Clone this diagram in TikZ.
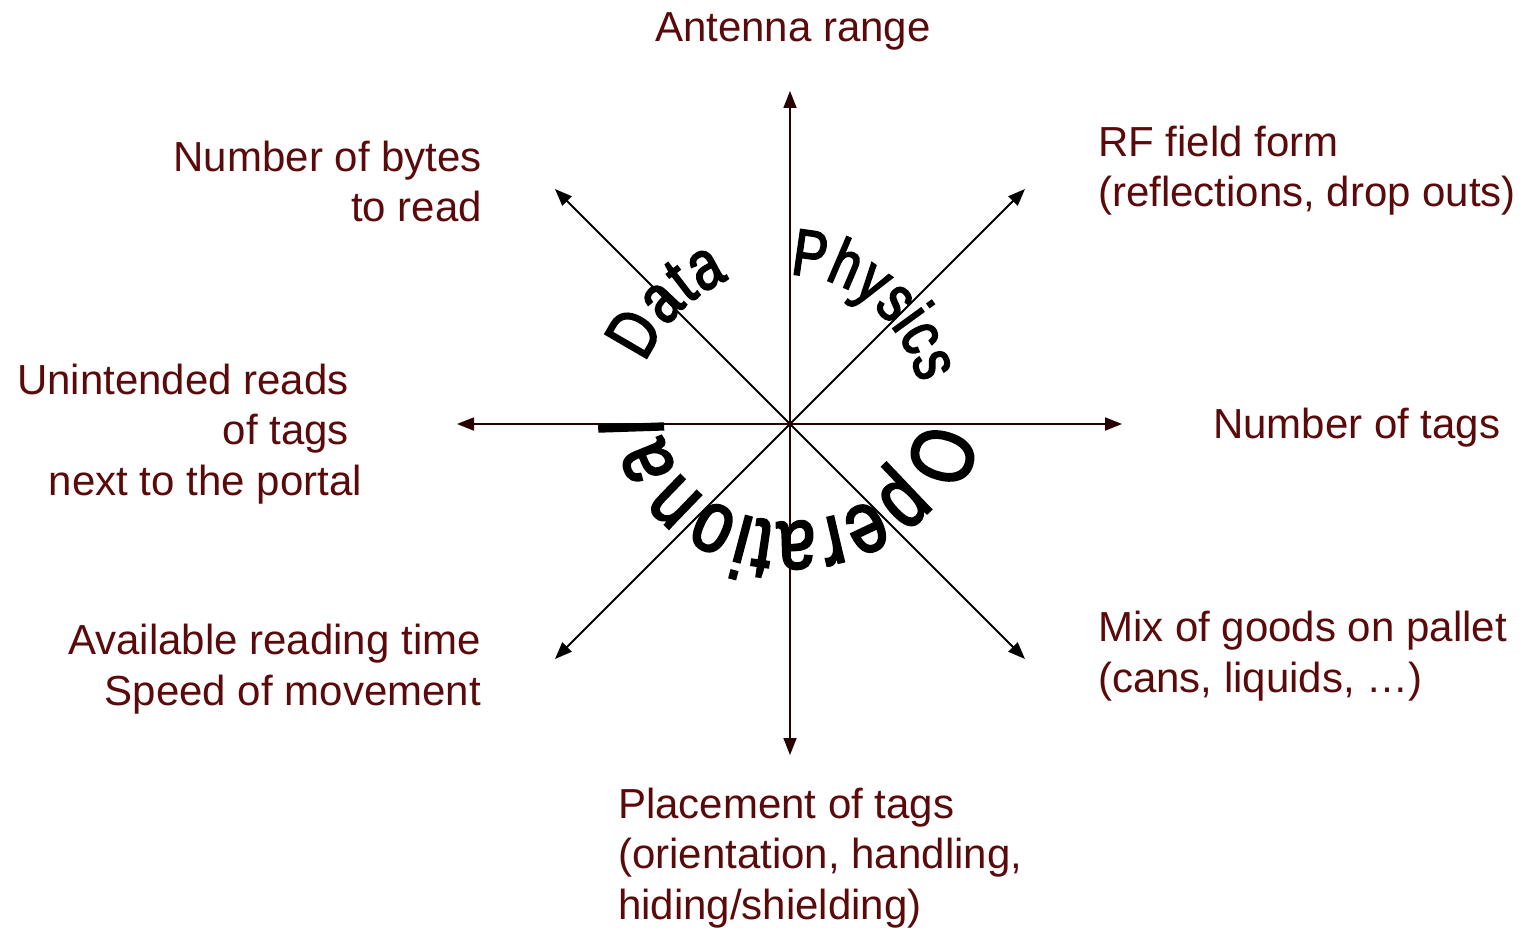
\documentclass[tikz,border=0pt]{standalone}
\usepackage{fontspec}
\setmainfont{Liberation Sans}
\newfontfamily\warpfont[FakeStretch=0.78,FakeBold=2.5]{Liberation Sans}
\usetikzlibrary{arrows.meta,decorations.text}

\definecolor{labelred}{RGB}{90,10,10}
\definecolor{axisdark}{RGB}{40,0,0}

\newcommand\labelsize{\fontsize{42}{50.5}\selectfont}
\newcommand\datafont{\warpfont\fontsize{70}{70}\selectfont}
\newcommand\physfont{\warpfont\fontsize{66}{66}\selectfont}
\newcommand\operfont{\warpfont\fontsize{88}{88}\selectfont}

\begin{document}
\begin{tikzpicture}[x=1pt,y=-1pt,
  axislabel/.style={font=\labelsize, text=labelred, inner sep=0pt},
  axisline/.style={draw=axisdark, line width=1.8pt, -{Triangle[length=17pt,width=13pt]}},
  diagline/.style={draw=black, line width=1.8pt, -{Triangle[length=17pt,width=13pt]}},
  arctext/.style={decorate, decoration={text along path, text={#1}, text align=fit to path}}
]
\useasboundingbox (0,0) rectangle (1524,928);

% centre and arrow ends
\coordinate (c)  at (790,424);
\coordinate (n)  at (790,91);
\coordinate (s)  at (790,755);
\coordinate (w)  at (457,424);
\coordinate (e)  at (1122,424);
\coordinate (nw) at (555,189);
\coordinate (ne) at (1025,189);
\coordinate (sw) at (555,659);
\coordinate (se) at (1025,659);

% diagonal axes
\draw[diagline] (c) -- (nw);
\draw[diagline] (c) -- (ne);
\draw[diagline] (c) -- (sw);
\draw[diagline] (c) -- (se);
% main axes
\draw[axisline] (c) -- (n);
\draw[axisline] (c) -- (s);
\draw[axisline] (c) -- (w);
\draw[axisline] (c) -- (e);

% curved group names (baselines on arcs round the centre)
\path[arctext={|\datafont|Data}]
  ([shift={(c)}]-157:157 and 157) arc[start angle=-157, end angle=-113, x radius=157, y radius=157];
\path[arctext={|\physfont|Physics}]
  ([shift={(c)}]-90:134 and 149) arc[start angle=-90, end angle=-16, x radius=134, y radius=149];
\path[arctext={|\operfont|Operational}]
  ([shift={(c)}]-2:127 and 98) arc[start angle=-2, end angle=183, x radius=127, y radius=98];

% axis labels (multi-line nodes are placed by the baseline of their last line)
\node[axislabel, anchor=base] (antenna) at (793,42) {Antenna range};
\node[axislabel, anchor=base east, align=right] (bytes) at (482,222) {Number of bytes\\to read};
\node[axislabel, anchor=base west, align=left] (rf) at (1098,207) {RF field form\\(reflections, drop outs)};
\node[axislabel, anchor=base east, align=right] (unintended) at (362,495)
  {Unintended reads\hspace*{13pt}\mbox{}\\of tags\hspace*{13pt}\mbox{}\\next to the portal};
\node[axislabel, anchor=base west] (numtags) at (1213,438) {Number of tags};
\node[axislabel, anchor=base east, align=right] (time) at (481,705) {Available reading time\\Speed of movement};
\node[axislabel, anchor=base west, align=left] (mix) at (1098,692) {Mix of goods on pallet\\(cans, liquids, …)};
\node[axislabel, anchor=base west, align=left] (placement) at (618,919)
  {Placement of tags\\(orientation, handling,\\hiding/shielding)};
\end{tikzpicture}
\end{document}
